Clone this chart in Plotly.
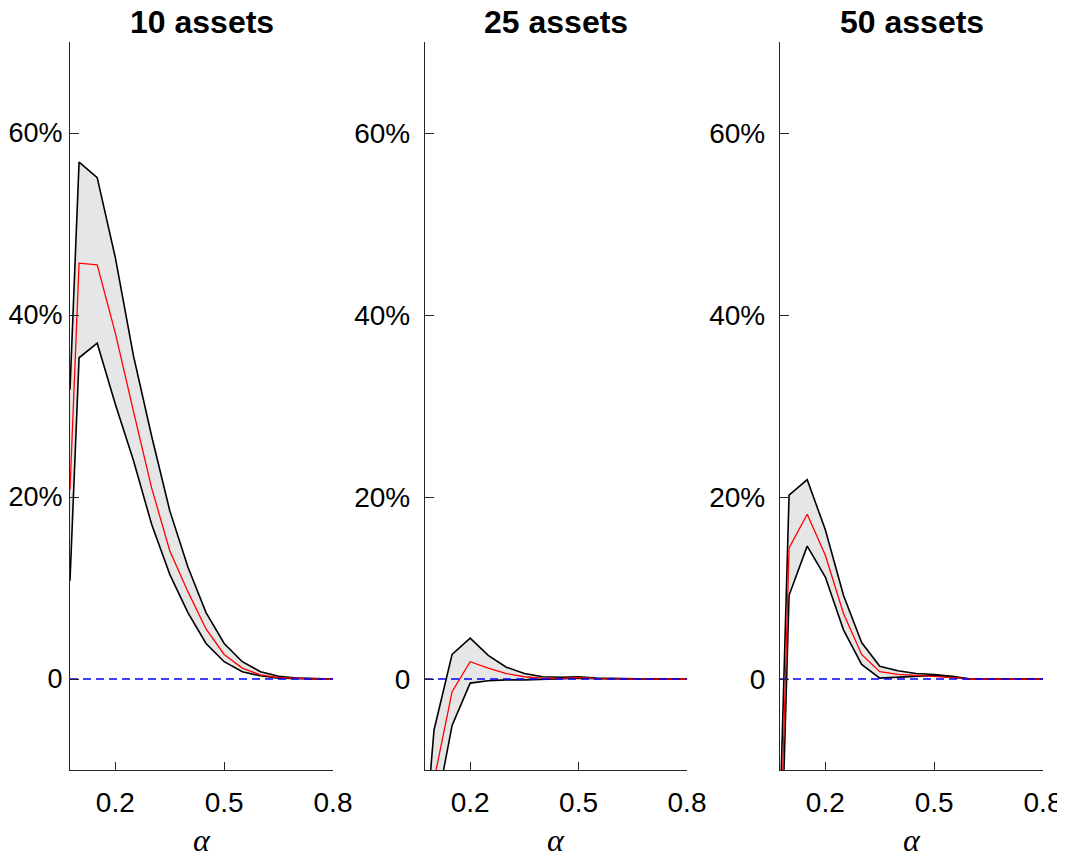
import plotly.graph_objects as go

alpha = [0.075, 0.1, 0.15, 0.2, 0.25, 0.3, 0.35, 0.4, 0.45, 0.5, 0.55, 0.6, 0.65, 0.7, 0.75, 0.8]

titles = ["10 assets", "25 assets", "50 assets"]

upper_10 = [31.8, 56.8, 55.1, 46.3, 35.5, 26.7, 18.5, 12.3, 7.3, 3.9, 1.9, 0.8, 0.3, 0.1, 0.05, 0.0]
mid_10 = [20.8, 45.7, 45.5, 38.0, 29.4, 21.0, 14.1, 9.6, 5.5, 2.7, 1.2, 0.45, 0.15, 0.05, 0.02, 0.0]
lower_10 = [10.8, 35.3, 36.9, 30.2, 24.0, 17.0, 11.5, 7.3, 3.9, 1.9, 0.8, 0.35, 0.1, 0.03, 0.01, 0.0]

upper_25 = [-17.5, -5.6, 2.7, 4.5, 2.6, 1.3, 0.6, 0.25, 0.2, 0.25, 0.1, 0.05, 0.02, 0.0, 0.0, 0.0]
mid_25 = [-30.0, -11.1, -1.4, 1.9, 1.2, 0.6, 0.25, 0.1, 0.05, 0.15, 0.05, 0.02, 0.0, 0.0, 0.0, 0.0]
lower_25 = [-40.0, -15.5, -5.1, -0.45, -0.2, -0.1, -0.1, -0.05, 0.0, 0.1, 0.03, 0.0, 0.0, 0.0, 0.0, 0.0]

upper_50 = [-15.0, 20.2, 21.9, 16.4, 9.2, 4.0, 1.4, 0.9, 0.6, 0.5, 0.3, 0.0, 0.0, 0.0, 0.0, 0.0]
mid_50 = [-21.0, 14.4, 18.1, 13.6, 7.2, 2.7, 0.8, 0.5, 0.4, 0.3, 0.15, 0.0, 0.0, 0.0, 0.0, 0.0]
lower_50 = [-25.0, 9.2, 14.6, 11.2, 5.4, 1.6, 0.1, 0.2, 0.3, 0.4, 0.2, 0.0, 0.0, 0.0, 0.0, 0.0]

x_ticks = [0.2, 0.5, 0.8]
x_ticktext = ["0.2", "0.5", "0.8"]
y_ticks = [0, 20, 40, 60]
y_ticktext = ["0", "20%", "40%", "60%"]
zero_level = [0, 0]

# the page body has an 8px margin; figure starts at (8, 8)
OFF = 8
W, H = 1065, 853 - OFF
panels_px = [(70, 333), (425, 687), (780, 1043)]
top_px, bottom_px = 42, 770

series = [(upper_10, mid_10, lower_10), (upper_25, mid_25, lower_25), (upper_50, mid_50, lower_50)]

fig = go.Figure()
axis_col = "#262626"
font_fam = "Liberation Sans, Arial, sans-serif"


def px_x(p):
    return (p - OFF) / W


def px_y(p):
    return (H - (p - OFF)) / H


for i, (up, md, lo) in enumerate(series):
    sfx = "" if i == 0 else str(i + 1)
    xa, ya = "x" + sfx, "y" + sfx
    fig.add_trace(go.Scatter(x=alpha, y=lo, mode="lines", line=dict(color="black", width=1.6),
                             xaxis=xa, yaxis=ya, showlegend=False, hoverinfo="skip"))
    fig.add_trace(go.Scatter(x=alpha, y=up, mode="lines", line=dict(color="black", width=1.6),
                             fill="tonexty", fillcolor="#e6e6e6",
                             xaxis=xa, yaxis=ya, showlegend=False, hoverinfo="skip"))
    fig.add_trace(go.Scatter(x=alpha, y=md, mode="lines", line=dict(color="red", width=1.3),
                             xaxis=xa, yaxis=ya, showlegend=False, hoverinfo="skip"))
    fig.add_trace(go.Scatter(x=[alpha[0], alpha[-1]], y=zero_level, mode="lines",
                             line=dict(color="blue", width=1.5, dash="8px,5px"),
                             xaxis=xa, yaxis=ya, showlegend=False, hoverinfo="skip"))

    x0, x1 = panels_px[i]
    dom_x = [px_x(x0), px_x(x1)]
    dom_y = [px_y(bottom_px), px_y(top_px)]
    fig.layout["xaxis" + sfx] = dict(
        domain=dom_x, range=[alpha[0], alpha[-1]], anchor=ya, automargin=False,
        tickvals=x_ticks, ticktext=x_ticktext, ticks="inside", ticklen=8, tickwidth=1.2,
        tickcolor=axis_col, showline=True, linecolor=axis_col, linewidth=1.3,
        showgrid=False, zeroline=False, tickfont=dict(size=28, color="#000000", family=font_fam),
        ticklabelstandoff=7,
    )
    first = i == 0
    fig.layout["yaxis" + sfx] = dict(
        domain=dom_y, range=[-10, 70], anchor=xa, automargin=False,
        tickvals=y_ticks, ticktext=y_ticktext, ticks="inside", ticklen=9, tickwidth=1.2,
        tickcolor=axis_col, showline=True, linecolor=axis_col, linewidth=1.3,
        showgrid=False, zeroline=False,
        tickfont=dict(size=27 if first else 28, color="#000000", family=font_fam),
        ticklabelstandoff=1 if first else 8,
    )
    cx = px_x((x0 + x1) / 2)
    fig.add_annotation(x=cx, y=px_y(22), xref="paper", yref="paper", text="<b>" + titles[i] + "</b>",
                       showarrow=False, xanchor="center", yanchor="middle",
                       font=dict(size=32, color="black", family=font_fam))
    fig.add_annotation(x=cx, y=px_y(840), xref="paper", yref="paper", text="<i>α</i>",
                       showarrow=False, xanchor="center", yanchor="middle",
                       font=dict(size=32, color="black", family="Liberation Serif, serif"))

fig.update_layout(width=W, height=H, margin=dict(l=0, r=0, t=0, b=0, autoexpand=False),
                  plot_bgcolor="white", paper_bgcolor="white")

fig.write_html("out.html")
